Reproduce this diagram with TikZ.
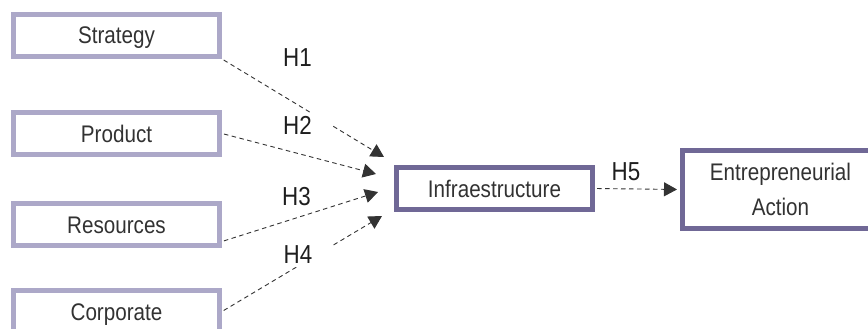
\documentclass[tikz,border=0pt]{standalone}
\usepackage{fontspec}
\setmainfont{Liberation Sans}[FakeStretch=0.86]
\usetikzlibrary{arrows.meta}
\definecolor{lightframe}{RGB}{172,168,200}
\definecolor{darkframe}{RGB}{112,104,150}
\definecolor{boxtext}{RGB}{50,50,50}
\definecolor{labeltext}{RGB}{30,30,30}
\definecolor{linkgray}{RGB}{51,51,51}
\begin{document}
\begin{tikzpicture}[x=1pt,y=-1pt,
  factor/.style={draw=lightframe, line width=5pt, minimum width=206pt,
    minimum height=42pt, inner sep=0pt, font=\fontsize{24}{29}\selectfont,
    text=boxtext, text height=17pt, text depth=0pt},
  hub/.style={draw=darkframe, line width=5pt, minimum width=196pt,
    minimum height=42pt, inner sep=0pt, font=\fontsize{24}{35}\selectfont,
    text=boxtext},
  hyp/.style={fill=white, inner xsep=20pt, inner ysep=3pt,
    font=\fontsize{26}{30}\selectfont, text=labeltext,
    text height=19pt, text depth=0pt},
  link/.style={draw=linkgray, line width=0.9pt, dash pattern=on 4.5pt off 3.5pt,
    shorten <=2pt, -{Triangle[length=13pt,width=14pt]}}]

\clip (0,0) rectangle (868,329);

% antecedent factors
\node[factor] (strat) at (116.5,35.5) {Strategy};
\node[factor] (prod) at (116.5,133.5) {Product};
\node[factor] (res) at (116.5,224.5) {Resources};
\node[factor] (corp) at (116.5,311.5) {Corporate};

% mediator and outcome
\node[hub, text height=17pt, text depth=0pt] (infra) at (494.5,188.5) {Infraestructure};
\node[hub, minimum height=78pt, align=center] (ent) at (780.5,189.5) {Entrepreneurial\\Action};

% arrow tips in front of the mediator
\coordinate (t1) at (384,157);
\coordinate (t2) at (376,174);
\coordinate (t3) at (378,192);
\coordinate (t4) at (382,216);

% links passing behind the hypothesis labels
\draw[link] (strat.south east) -- (t1);
\draw[link] (corp.east) -- (t4);

% hypothesis labels
\node[hyp] (h1) at (297.5,57) {H1};
\node[hyp] (h2) at (297.5,125.5) {H2};
\node[hyp] (h3) at (296.5,196) {H3};
\node[hyp] (h4) at (298,254) {H4};
\node[hyp, inner xsep=2pt] (h5) at (626,171) {H5};

% remaining links
\draw[link] (prod.east) -- (t2);
\draw[link] ([yshift=-17pt]res.east) -- (t3);
\draw[link, shorten >=3pt] (infra.east) -- (ent.west);
\end{tikzpicture}
\end{document}
